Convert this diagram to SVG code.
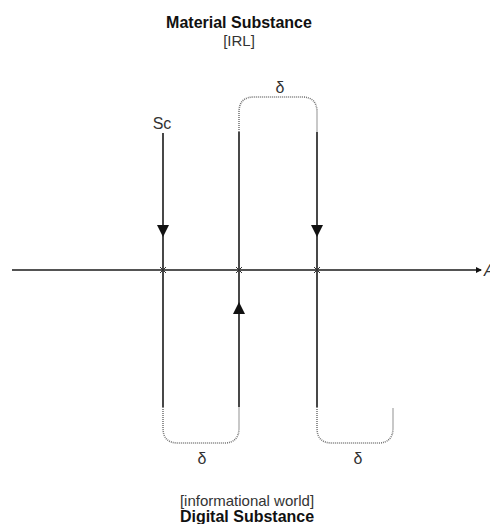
<svg xmlns="http://www.w3.org/2000/svg" width="490" height="524" viewBox="0 0 490 524">
<defs>
<style>
.t{font-family:"Liberation Sans",Arial,sans-serif;fill:#111;text-anchor:middle}
.b{font-weight:bold;font-size:16px}
.r{font-size:15px;fill:#333}
.d{font-size:16px;fill:#333}
.ln{stroke:#1a1a1a;stroke-width:1.6;fill:none}
.dot{stroke:#777;stroke-width:1.6;fill:none;stroke-dasharray:1 1}
.x{stroke:#333;stroke-width:1;fill:none}
.ah{fill:#111}
</style>
<marker id="axisArrow" markerWidth="6" markerHeight="6" refX="5" refY="3" orient="auto" markerUnits="userSpaceOnUse">
<path d="M0,0 L6,3 L0,6 Z" fill="#111"/>
</marker>
</defs>
<rect width="490" height="524" fill="#fff"/>
<g id="title-top">
<text class="t b" x="239" y="28">Material Substance</text>
<text class="t r" x="239" y="46">[IRL]</text>
</g>
<g id="title-bottom">
<text class="t r" x="247" y="506">[informational world]</text>
<text class="t b" x="247" y="522">Digital Substance</text>
</g>
<g id="axis">
<line class="ln" x1="12" y1="270" x2="481" y2="270" marker-end="url(#axisArrow)"/>
<text class="t d" x="484" y="276" style="text-anchor:start;font-style:italic">A</text>
</g>
<g id="connectors">
<line class="ln" x1="163" y1="133" x2="163" y2="407"/>
<line class="ln" x1="239" y1="132" x2="239" y2="407"/>
<line class="ln" x1="317" y1="132" x2="317" y2="407"/>
<path class="dot" d="M239,132 V112 Q239,97 254,97 H302 Q317,97 317,112 V132"/>
<path class="dot" d="M163,407 V428 Q163,443 178,443 H224 Q239,443 239,428 V407"/>
<path class="dot" d="M317,407 V428 Q317,443 332,443 H378 Q393,443 393,428 V408"/>
<path class="ah" d="M157,225 L169,225 L163,237 Z"/>
<path class="ah" d="M311,225 L323,225 L317,237 Z"/>
<path class="ah" d="M233,314 L245,314 L239,302 Z"/>
</g>
<g id="marks">
<path class="x" d="M160,267 L166,273 M166,267 L160,273"/>
<path class="x" d="M236,267 L242,273 M242,267 L236,273"/>
<path class="x" d="M314,267 L320,273 M320,267 L314,273"/>
</g>
<g id="labels">
<text class="t d" x="162" y="129">Sc</text>
<text class="t d" x="280" y="93">δ</text>
<text class="t d" x="202" y="464">δ</text>
<text class="t d" x="358" y="464">δ</text>
</g>
</svg>
